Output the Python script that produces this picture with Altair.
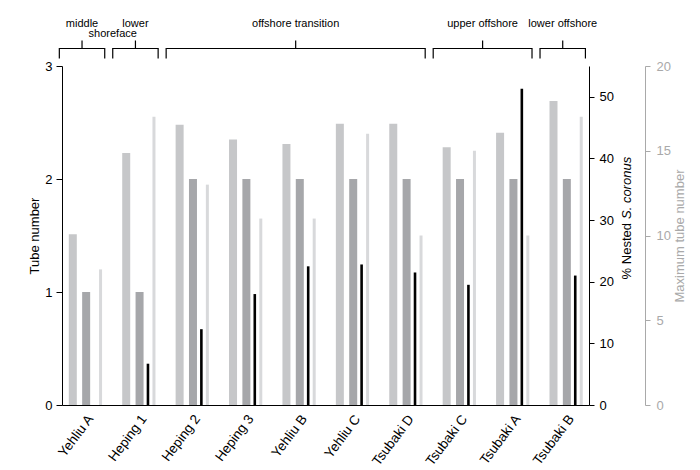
import altair as alt
import pandas as pd

# ---- data ----
sites = ["Yehliu A", "Heping 1", "Heping 2", "Heping 3", "Yehliu B",
         "Yehliu C", "Tsubaki D", "Tsubaki C", "Tsubaki A", "Tsubaki B"]
mean_tubes = [1.51, 2.23, 2.48, 2.35, 2.31, 2.49, 2.49, 2.28, 2.41, 2.69]
median_tubes = [1, 1, 2, 2, 2, 2, 2, 2, 2, 2]
pct_nested = [0, 6.7, 12.3, 18.0, 22.5, 22.8, 21.5, 19.5, 51.3, 21.0]
max_tubes = [8, 17, 13, 11, 11, 16, 10, 15, 10, 17]

zone_names = ["middle", "lower", "offshore transition", "upper offshore", "lower offshore"]
zone_start = [0, 1, 2, 7, 9]
zone_end = [1, 2, 7, 9, 10]

df = pd.DataFrame({"site": sites, "mean": mean_tubes, "median": median_tubes,
                   "nested": pct_nested, "maxn": max_tubes})
zones = pd.DataFrame({"zone": zone_names, "start": zone_start, "end": zone_end})

FONT = "Liberation Sans"
PAD_INNER = 0.133
GRAY_AX = "#a9a9a9"

xaxis = alt.Axis(labelAngle=-53, labelAlign="right", labelBaseline="top",
                 ticks=False, labelPadding=7, domainColor="black",
                 labelColor="black", labelFontSize=13.5)
xenc = alt.X("site:N", sort=sites, title=None,
             scale=alt.Scale(paddingInner=PAD_INNER, paddingOuter=0), axis=xaxis)

left_axis = alt.Axis(orient="left", values=[0, 1, 2, 3], tickSize=6, labelPadding=4,
                     titlePadding=3, title="Tube number")
left_scale = alt.Scale(domain=[0, 3], nice=False)

base = alt.Chart(df)
mean_bar = base.mark_bar(width=8, xOffset=-12.35, color="#c6c7c9").encode(
    x=xenc, y=alt.Y("mean:Q", scale=left_scale, axis=left_axis))
median_bar = base.mark_bar(width=8, xOffset=1, color="#a6a7aa").encode(
    x=xenc, y=alt.Y("median:Q", scale=left_scale, axis=left_axis))
tube = alt.layer(mean_bar, median_bar)

nested_bar = base.mark_bar(width=2.6, xOffset=9.4, color="#000000").encode(
    x=xenc,
    y=alt.Y("nested:Q", scale=alt.Scale(domain=[0, 55], nice=False),
            axis=alt.Axis(orient="right", values=[0, 10, 20, 30, 40, 50],
                          tickSize=5, labelPadding=5, title=None)))

max_bar = base.mark_bar(width=3, xOffset=15.4, color="#d8d9db").encode(
    x=xenc,
    y=alt.Y("maxn:Q", scale=alt.Scale(domain=[0, 20], nice=False),
            axis=alt.Axis(orient="right", offset=56, values=[0, 5, 10, 15, 20],
                          tickSize=5, labelPadding=6, title="Maximum tube number",
                          titleAngle=270, titleBaseline="top", titlePadding=3,
                          domainColor=GRAY_AX, tickColor=GRAY_AX,
                          labelColor=GRAY_AX, titleColor=GRAY_AX)))

bars = alt.layer(tube, nested_bar, max_bar).resolve_scale(y="independent")

# ---- zone brackets above the plot ----
bx = alt.Scale(domain=[0, 10 - PAD_INNER], nice=False, zero=False)
bk = (alt.Chart(zones)
      .transform_calculate(left="datum.start - 0.05", right="datum.end - 0.2")
      .transform_calculate(mid="(datum.left + datum.right) / 2"))
line_kw = dict(color="black", strokeWidth=1.2)
hline = bk.mark_rule(**line_kw).encode(
    x=alt.X("left:Q", scale=bx, axis=None), x2="right:Q", y=alt.value(-17.5))
lv = bk.mark_rule(**line_kw).encode(
    x=alt.X("left:Q", scale=bx, axis=None), y=alt.value(-18), y2=alt.value(-7.5))
rv = bk.mark_rule(**line_kw).encode(
    x=alt.X("right:Q", scale=bx, axis=None), y=alt.value(-18), y2=alt.value(-7.5))
tk = bk.mark_rule(**line_kw).encode(
    x=alt.X("mid:Q", scale=bx, axis=None), y=alt.value(-25.5), y2=alt.value(-17.5))
lab = bk.mark_text(baseline="alphabetic", fontSize=11, color="black", font=FONT).encode(
    x=alt.X("mid:Q", scale=bx, axis=None), y=alt.value(-39.5), text="zone:N")
shore = bk.transform_filter("datum.start == 1").mark_text(
    baseline="alphabetic", fontSize=11, color="black", font=FONT).encode(
    x=alt.X("left:Q", scale=bx, axis=None), y=alt.value(-29), text=alt.value("shoreface"))
brackets = alt.layer(hline, lv, rv, tk, lab, shore)

# ---- right axis title with italic species name ----
one = pd.DataFrame({"k": [0]})
t1 = alt.Chart(one).mark_text(angle=270, align="right", baseline="middle", fontSize=13,
                              font=FONT, color="black").encode(
    x=alt.value(565), y=alt.value(157), text=alt.value("% Nested"))
t2 = alt.Chart(one).mark_text(angle=270, align="left", baseline="middle", fontSize=13,
                              font=FONT, fontStyle="italic", color="black").encode(
    x=alt.value(565), y=alt.value(153), text=alt.value("S. coronus"))

chart = (alt.layer(bars, brackets, t1, t2)
         .resolve_scale(x="independent")
         .properties(width=527, height=339, autosize="none",
                     padding={"left": 54, "top": 58, "right": 103, "bottom": 62})
         .configure_view(stroke=None)
         .configure_axis(grid=False, labelFont=FONT, titleFont=FONT, labelFontSize=13,
                         titleFontSize=13, titleFontWeight="normal",
                         domainColor="black", tickColor="black", labelColor="black",
                         titleColor="black"))

chart.save("out.html", embed_options={"renderer": "svg", "actions": False})
